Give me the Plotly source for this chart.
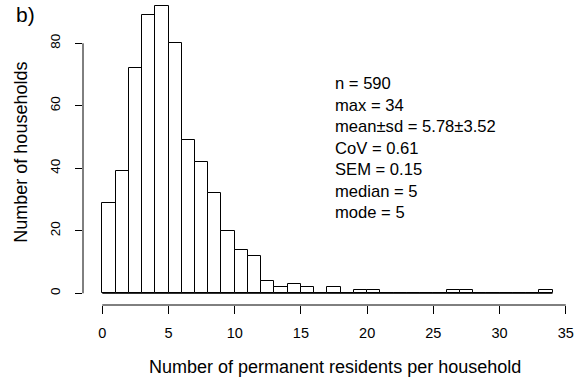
import plotly.graph_objects as go

# Histogram of permanent residents per household (bins of width 1)
bin_edges = list(range(0, 35))
counts = [29, 39, 72, 89, 92, 80, 49, 42, 32, 20, 14, 12, 4, 2, 3, 2,
          0, 2, 0, 1, 1, 0, 0, 0, 0, 0, 1, 1, 0, 0, 0, 0, 0, 1]
x_ticks = [0, 5, 10, 15, 20, 25, 30, 35]
y_ticks = [0, 20, 40, 60, 80]
stats_lines = ["n = 590", "max = 34", "mean±sd = 5.78±3.52", "CoV = 0.61",
               "SEM = 0.15", "median = 5", "mode = 5"]

centers = [(a + b) / 2 for a, b in zip(bin_edges[:-1], bin_edges[1:])]
FONT = "Liberation Sans, Arial, sans-serif"

fig = go.Figure()
fig.add_trace(go.Bar(
    x=centers, y=counts, width=1.0,
    marker=dict(color="white", line=dict(color="black", width=1)),
    hoverinfo="x+y",
))

shapes = [
    # baseline across empty bins
    dict(type="line", xref="x", yref="y", x0=bin_edges[0], x1=bin_edges[-1],
         y0=0, y1=0, line=dict(color="black", width=1)),
    # axis lines spanning first to last tick
    dict(type="line", xref="x", yref="paper", x0=x_ticks[0], x1=x_ticks[-1],
         y0=0, y1=0, line=dict(color="black", width=1)),
    dict(type="line", xref="paper", yref="y", x0=0, x1=0,
         y0=y_ticks[0], y1=y_ticks[-1], line=dict(color="black", width=1)),
]

annotations = [
    dict(text="<br>".join(stats_lines), xref="paper", yref="paper",
         x=0.513, y=0.765, xanchor="left", yanchor="top", align="left",
         showarrow=False, font=dict(family=FONT, size=16.6, color="black")),
    dict(text="Number of permanent residents per household", xref="paper",
         yref="paper", x=0.517, y=-0.203, xanchor="center", yanchor="middle",
         showarrow=False, font=dict(family=FONT, size=18, color="black")),
    dict(text="Number of households", xref="paper", yref="paper",
         x=-0.129, y=0.5, xanchor="center", yanchor="middle", textangle=-90,
         showarrow=False, font=dict(family=FONT, size=18, color="black")),
    dict(text="b)", xref="paper", yref="paper", x=-0.119, y=0.951,
         xanchor="center", yanchor="middle", showarrow=False,
         font=dict(family=FONT, size=21, color="black")),
]

fig.update_layout(
    width=579, height=383,
    margin=dict(l=83, r=9, t=0, b=78),
    paper_bgcolor="white", plot_bgcolor="white",
    showlegend=False, bargap=0,
    shapes=shapes, annotations=annotations,
    font=dict(family=FONT, color="black"),
    xaxis=dict(range=[-1.458, 35.32], tickvals=x_ticks, ticks="outside",
               ticklen=8, tickcolor="black", showline=False, showgrid=False,
               zeroline=False, ticklabelstandoff=7,
               tickfont=dict(size=14.5, color="black")),
    yaxis=dict(range=[-3.74, 93.86], tickvals=y_ticks, ticks="outside",
               ticklen=7, tickcolor="black", showline=False, showgrid=False,
               zeroline=False, tickangle=-90, ticklabelstandoff=10,
               tickfont=dict(size=13.5, color="black")),
)

fig.write_html("out.html")
